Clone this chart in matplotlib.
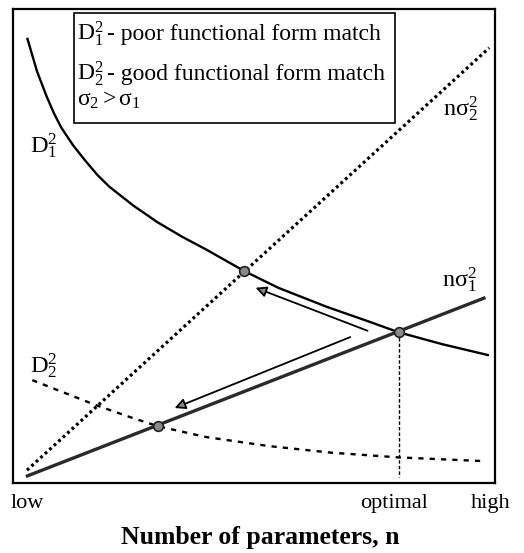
import numpy as np
import matplotlib
matplotlib.use("Agg")
import matplotlib.pyplot as plt
from matplotlib.patches import Rectangle

plt.rcParams['font.family'] = ['Liberation Serif', 'DejaVu Serif']
plt.rcParams['mathtext.fontset'] = 'custom'
plt.rcParams['mathtext.rm'] = 'Liberation Serif'
plt.rcParams['mathtext.it'] = 'Liberation Serif:italic'

# misfit curves (arbitrary units, n from low to high)
d1_x = [0.3, 0.5, 0.7, 0.85, 1.0, 1.25, 1.5, 1.75, 2.0, 2.5, 3.0, 3.5, 4.0,
        4.8, 5.5, 6.5, 7.4, 8.0, 8.9, 9.85]
d1_y = [9.37, 8.68, 8.15, 7.8, 7.5, 7.12, 6.8, 6.5, 6.25, 5.85, 5.5, 5.2,
        4.93, 4.47, 4.12, 3.72, 3.4, 3.18, 2.93, 2.7]
d2_x = [0.4, 1.0, 1.7, 2.4, 3.0, 4.0, 5.3, 6.6, 8.0, 9.8]
d2_y = [2.17, 1.93, 1.65, 1.40, 1.20, 0.97, 0.78, 0.64, 0.54, 0.46]

# noise lines n*sigma^2
nsig2_x = [0.29, 9.88]
nsig2_y = [0.27, 9.18]
nsig1_x = [0.3, 9.77]
nsig1_y = [0.15, 3.9]

# crossing points
cross_x = [4.8, 8.0, 3.0]
cross_y = [4.47, 3.18, 1.2]
n_opt = 8.0

tick_pos = [0.3, 7.9, 9.9]
tick_labels = ['low', 'optimal', 'high']

fig = plt.figure(figsize=(5.24, 5.53), dpi=100)
ax = fig.add_axes([13 / 524, 1 - 483 / 553, 482 / 524, 474 / 553])
ax.set_xlim(0, 10)
ax.set_ylim(0, 10)

ax.plot(d1_x, d1_y, color='black', lw=1.7)
ax.plot(d2_x, d2_y, color='black', lw=1.7, linestyle=(0, (2.2, 2.6)))
ax.plot(nsig2_x, nsig2_y, color='black', lw=2.3, linestyle=(0, (0.9, 1.0)))
ax.plot(nsig1_x, nsig1_y, color='#2a2a2a', lw=2.4)
ax.plot([n_opt, n_opt], [cross_y[1], 0.13], color='black', lw=1.0,
        linestyle=(0, (2.5, 1.5)))

ax.plot(cross_x, cross_y, 'o', ms=7, mfc='#8a8a8a', mec='#222222', mew=1.2,
        zorder=5)

# arrows showing the move away from the optimum
arrow = dict(arrowstyle='-|>', color='black', lw=1.3, mutation_scale=16,
             fc='#888888', ec='black')
ax.annotate('', xy=(4.98, 4.14), xytext=(7.41, 3.19), arrowprops=arrow)
ax.annotate('', xy=(3.30, 1.56), xytext=(7.05, 3.10), arrowprops=arrow)

# curve labels
fs = 17.5
ax.text(0.35, 6.96, r'$\mathrm{D}_1^2$', fontsize=fs, va='baseline')
ax.text(0.35, 2.32, r'$\mathrm{D}_2^2$', fontsize=fs, va='baseline')
ax.text(8.92, 7.74, r'$\mathrm{n\sigma}_2^2$', fontsize=fs, va='baseline')
ax.text(8.9, 4.14, r'$\mathrm{n\sigma}_1^2$', fontsize=fs, va='baseline')

# key box
kfs = 17
ax.add_patch(Rectangle((1.27, 7.59), 6.66, 2.33, fill=False, ec='black',
                       lw=1.2, zorder=4))
ax.text(1.32, 9.35, r'$\mathrm{D}_1^2$', fontsize=kfs, va='baseline')
ax.text(1.95, 9.35, '- poor functional form match', fontsize=kfs,
        va='baseline')
ax.text(1.32, 8.5, r'$\mathrm{D}_2^2$', fontsize=kfs, va='baseline')
ax.text(1.95, 8.5, '- good functional form match', fontsize=kfs,
        va='baseline')
ax.text(1.32, 7.97, r'$\mathrm{\sigma_2 > \sigma_1}$', fontsize=kfs,
        va='baseline')

ax.set_xticks(tick_pos)
ax.set_xticklabels(tick_labels, fontsize=16)
ax.set_yticks([])
ax.tick_params(axis='x', length=0, pad=8)
ax.set_xlabel('Number of parameters, n', fontsize=18.5, fontweight='bold')
ax.xaxis.set_label_coords(0.513, -0.116)
ax.xaxis.label.set_va('center')
for s in ax.spines.values():
    s.set_linewidth(1.6)

fig.savefig('out.png', dpi=100)
